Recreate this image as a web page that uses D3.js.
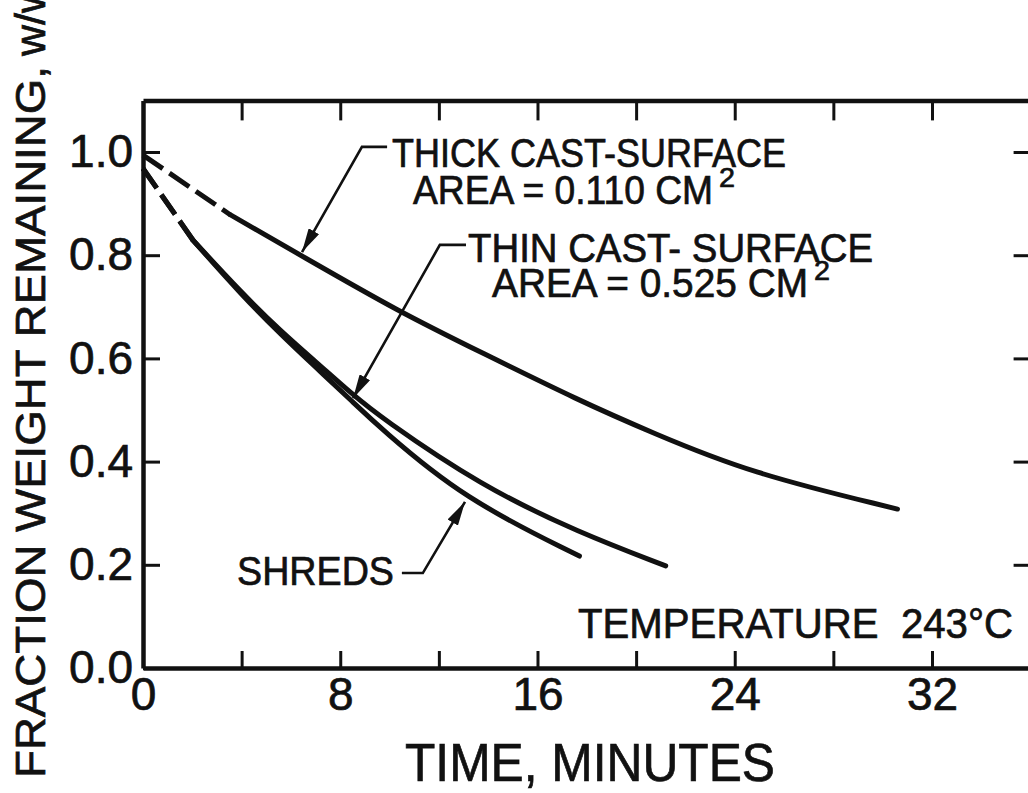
<!DOCTYPE html>
<html>
<head>
<meta charset="utf-8">
<script src="https://cdn.jsdelivr.net/npm/d3@7"></script>
<style>
  html, body { margin: 0; padding: 0; background: #ffffff; }
  svg { display: block; }
  text { font-family: "Liberation Sans", Arial, sans-serif; fill: #111; stroke: #111; stroke-width: 0.7px; }
</style>
</head>
<body>
<svg id="chart" width="1028" height="793"></svg>
<script>
// ---- data ----
const timeTicks = [0, 4, 8, 12, 16, 20, 24, 28, 32];
const timeTickLabels = ["0", "", "8", "", "16", "", "24", "", "32"];
const fracTicks = [0.0, 0.2, 0.4, 0.6, 0.8, 1.0];
const fracTickLabels = ["0.0", "0.2", "0.4", "0.6", "0.8", "1.0"];

const thickT = [0, 3.55, 6.5, 10.4, 13.7, 17.7, 20.6, 24.6, 30.6];
const thickW = [0.994, 0.878, 0.797, 0.690, 0.612, 0.518, 0.457, 0.378, 0.308];
const thickDashEnd = 3.55;

const thinT = [0, 2.03, 4.0, 5.6, 7.0, 8.5, 9.6, 13.7, 17.7, 21.2];
const thinW = [0.968, 0.829, 0.727, 0.652, 0.594, 0.530, 0.487, 0.353, 0.262, 0.198];
const thinDashEnd = 2.03;

const shredsT = [0, 2.03, 4.0, 5.6, 7.0, 8.5, 9.6, 13.0, 17.7];
const shredsW = [0.968, 0.829, 0.723, 0.646, 0.583, 0.516, 0.466, 0.328, 0.217];
const shredsDashEnd = 2.03;

// annotation anchor points in data units: [tip, elbow, end of short horizontal]
const thickLeader = [[6.45, 0.806], [8.88, 1.010], [9.9, 1.010]];
const thinLeader = [[8.52, 0.523], [12.04, 0.820], [13.1, 0.820]];
const shredsLeader = [[13.06, 0.322], [11.35, 0.184], [10.5, 0.184]];

// ---- scales ----
const svg = d3.select("#chart");
const x = d3.scaleLinear().domain([0, 36]).range([143, 1030.6]);
const y = d3.scaleLinear().domain([0, 1.1]).range([668, 100.4]);

// ---- axes / frame ----
const axisStyle = (g, domainW, tickW) => {
  g.select(".domain").attr("stroke", "#111").attr("stroke-width", domainW);
  g.selectAll(".tick line").attr("stroke", "#111").attr("stroke-width", tickW);
};

const gTop = svg.append("g").attr("transform", `translate(0,${y(1.1)})`)
  .call(d3.axisTop(x).tickValues(timeTicks.slice(1)).tickSize(-20).tickSizeOuter(0).tickFormat(""));
axisStyle(gTop, 4.5, 3);

const gRight = svg.append("g").attr("transform", `translate(${x(36)},0)`)
  .call(d3.axisRight(y).tickValues(fracTicks.slice(1)).tickSize(-17).tickSizeOuter(0).tickFormat(""));
axisStyle(gRight, 4.5, 3);

const gLeft = svg.append("g").attr("transform", `translate(${x(0)},0)`)
  .call(d3.axisLeft(y).tickValues(fracTicks).tickSize(-17).tickSizeOuter(0).tickPadding(10)
    .tickFormat((d, i) => fracTickLabels[i]));
axisStyle(gLeft, 4.5, 3);
gLeft.selectAll(".tick text").style("font-family", '"Liberation Sans", Arial, sans-serif')
  .attr("font-size", 46).attr("fill", "#111");

const gBottom = svg.append("g").attr("transform", `translate(0,${y(0)})`)
  .call(d3.axisBottom(x).tickValues(timeTicks).tickSize(-17).tickSizeOuter(0).tickPadding(9)
    .tickFormat((d, i) => timeTickLabels[i]));
axisStyle(gBottom, 4.5, 3);
gBottom.selectAll(".tick text").style("font-family", '"Liberation Sans", Arial, sans-serif')
  .attr("font-size", 46).attr("fill", "#111");

// ---- curves ----
const line = d3.line().x(d => x(d[0])).y(d => y(d[1])).curve(d3.curveBasis);
function drawSeries(T, W, dashEnd) {
  const pts = T.map((t, i) => [t, W[i]]);
  svg.append("path").datum(pts.filter(p => p[0] <= dashEnd))
    .attr("d", d3.line().x(d => x(d[0])).y(d => y(d[1])))
    .attr("fill", "none").attr("stroke", "#111").attr("stroke-width", 5)
    .attr("stroke-dasharray", "24,8");
  svg.append("path").datum(pts.filter(p => p[0] >= dashEnd))
    .attr("d", line)
    .attr("fill", "none").attr("stroke", "#111").attr("stroke-width", 5)
    .attr("stroke-linecap", "round");
}
drawSeries(thickT, thickW, thickDashEnd);
drawSeries(thinT, thinW, thinDashEnd);
drawSeries(shredsT, shredsW, shredsDashEnd);

// ---- leaders with arrowheads ----
const defs = svg.append("defs");
defs.append("marker").attr("id", "arrow")
  .attr("markerUnits", "userSpaceOnUse")
  .attr("viewBox", "0 0 24 12").attr("markerWidth", 24).attr("markerHeight", 12)
  .attr("refX", 24).attr("refY", 6).attr("orient", "auto")
  .append("path").attr("d", "M0,0 L24,6 L0,12 Z").attr("fill", "#111");

function leader(pts) {
  const seq = [pts[2], pts[1], pts[0]];
  svg.append("path").datum(seq)
    .attr("d", d3.line().x(d => x(d[0])).y(d => y(d[1])))
    .attr("fill", "none").attr("stroke", "#111").attr("stroke-width", 2.6)
    .attr("marker-end", "url(#arrow)");
}
leader(thickLeader);
leader(thinLeader);
leader(shredsLeader);

// ---- labels ----
function label(txt, px, py, size, len, anchor) {
  const t = svg.append("text").attr("x", px).attr("y", py).attr("font-size", size)
    .attr("text-anchor", anchor || "start").text(txt);
  if (len) t.attr("textLength", len).attr("lengthAdjust", "spacingAndGlyphs");
  return t;
}
function areaLabel(main, px, py, len) {
  label(main, px, py, 40, len);
  label("2", px + len + 6, py - 17, 28, 16);
}

label("THICK CAST-SURFACE", 392, 167, 40, 394);
areaLabel("AREA = 0.110 CM", 413, 204, 300);
label("THIN CAST- SURFACE", 468, 262, 40, 405);
areaLabel("AREA = 0.525 CM", 492, 297, 316);
label("SHREDS", 237, 585, 40, 157);
label("TEMPERATURE \u00A0243°C", 578, 638, 42, 435);

label("TIME, MINUTES", 405, 781, 54, 370);

// y-axis title (rotated)
const yt = svg.append("text").attr("transform", "translate(45,778) rotate(-90)")
  .attr("font-size", 43);
yt.append("tspan").attr("textLength", 712).attr("lengthAdjust", "spacingAndGlyphs")
  .text("FRACTION WEIGHT REMAINING,");
yt.append("tspan").attr("dx", 10).text("w/w");
yt.append("tspan").attr("font-size", 30).attr("dy", 8).text("o");
</script>
</body>
</html>
